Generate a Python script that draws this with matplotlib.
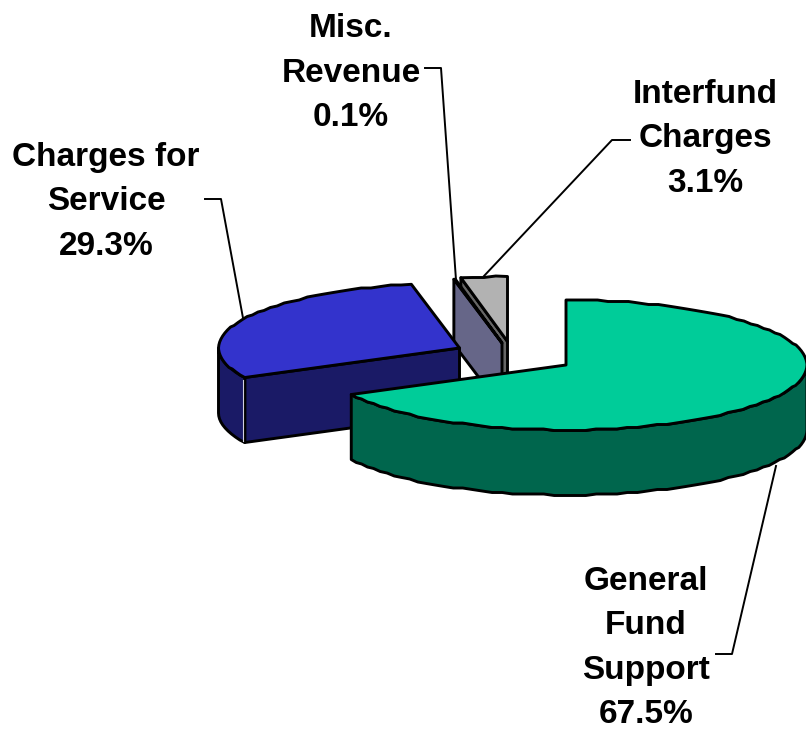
import numpy as np
import matplotlib
matplotlib.use("Agg")
import matplotlib.pyplot as plt
from matplotlib.patches import Polygon

plt.rcParams['font.family'] = ['Liberation Sans', 'DejaVu Sans']

# order of the slices clockwise from 12 o'clock
categories = ["General\nFund\nSupport", "Charges for\nService", "Misc.\nRevenue", "Interfund\nCharges"]
shares = [67.5, 29.3, 0.1, 3.1]

top_colors = ["#00CC99", "#3333CC", "#666699", "#B2B2B2"]
side_colors = ["#00664D", "#1A1A66", "#666688", "#666666"]

# pie layout in pixels
centers = [(566, 365), (459.5, 348), (502, 343), (507.5, 341.5)]
rx, ry, depth = 241, 65, 65
draw_order = [3, 2, 1, 0]
label_pos = [(646, 648), (106, 202), (351, 73), (705, 139)]
leaders = [
    [(716, 654), (732, 654), (776, 466)],
    [(205, 199), (221, 199), (243, 318)],
    [(425, 68), (441, 68), (456, 280)],
    [(630, 140), (612, 140), (484, 276)],
]


def arc(cx, cy, a0, a1, jag=True):
    # a0, a1 degrees clockwise from 12 o'clock, coarse integer steps like the original
    n = max(2, int(abs(a1 - a0) / 2.5) + 1)
    t = np.radians(np.linspace(a0, a1, n))
    x = cx + rx * np.sin(t)
    y = cy - ry * np.cos(t)
    if jag:
        y[1:-1] = np.round(y[1:-1] / 1.5) * 1.5
    return np.column_stack([x, y])


def wall(cx, cy, a0, a1):
    up = arc(cx, cy, a0, a1)
    down = up[::-1] + [0, depth]
    return np.vstack([up, down])


def cut_face(cx, cy, a):
    t = np.radians(a)
    ex, ey = cx + rx * np.sin(t), cy - ry * np.cos(t)
    return [(cx, cy), (ex, ey), (ex, ey + depth), (cx, cy + depth)]


fig = plt.figure(figsize=(8.06, 7.31), dpi=100)
ax = fig.add_axes([0, 0, 1, 1])
ax.set_xlim(0, 806)
ax.set_ylim(731, 0)
ax.axis("off")

edges = np.cumsum([0] + shares) * 3.6
style = dict(edgecolor="black", linewidth=2.1, joinstyle="round")

for line in leaders:
    ax.plot(*zip(*line), color="black", lw=1.4, zorder=1)

z = 2
for i in draw_order:
    cx, cy = centers[i]
    a0, a1 = edges[i], edges[i + 1]
    # the cut at the end of the slice faces the viewer on the left half
    if a0 >= 180:
        ax.add_patch(Polygon(cut_face(cx, cy, a0), facecolor=side_colors[i], zorder=z, **style))
    if i == 0:
        ax.add_patch(Polygon(wall(cx, cy, 90, a1), facecolor=side_colors[i], zorder=z, **style))
    elif a0 < 270:
        ax.add_patch(Polygon(wall(cx, cy, a0, 270), facecolor=side_colors[i], zorder=z, **style))
        t = np.radians(a0)
        ex, ey = cx + rx * np.sin(t), cy - ry * np.cos(t)
        ax.plot([ex - 2, ex - 2], [ey + 2, ey + depth - 2], color="#D0D0E0", lw=0.8, zorder=z)
    top = np.vstack([[(cx, cy)], arc(cx, cy, a0, a1)])
    ax.add_patch(Polygon(top, facecolor=top_colors[i], zorder=z, **style))
    z += 1

for name, share, (x, y) in zip(categories, shares, label_pos):
    ax.text(x, y, f"{name}\n{share:.1f}%", ha="center", va="center", ma="center",
            fontsize=24, fontweight="bold", linespacing=1.55, zorder=10)

fig.savefig("out.png", dpi=100)
